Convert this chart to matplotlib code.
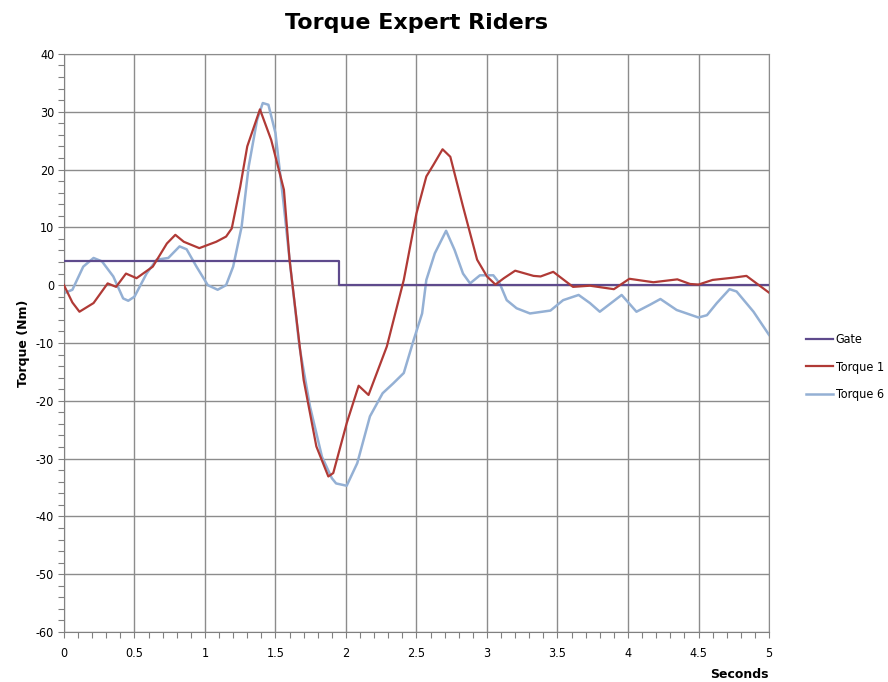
import matplotlib
matplotlib.use("Agg")
import matplotlib.pyplot as plt
from matplotlib.ticker import MultipleLocator

plt.rcParams["axes.unicode_minus"] = False
plt.rcParams["font.family"] = ["DejaVu Sans"]

# Gate signal (step)
gate_t = [0.0, 1.95, 1.95, 5.0]
gate_v = [4.2, 4.2, 0.0, 0.0]

# Torque 1 (red)
t1_t = [0.0, 0.06, 0.11, 0.21, 0.31, 0.37, 0.44, 0.515, 0.63, 0.73, 0.79, 0.85,
        0.96, 1.08, 1.15, 1.19, 1.25, 1.30, 1.39, 1.47, 1.56, 1.60, 1.70, 1.79,
        1.875, 1.91, 2.005, 2.09, 2.16, 2.29, 2.41, 2.50, 2.57, 2.62, 2.685,
        2.74, 2.83, 2.93, 3.00, 3.06, 3.12, 3.20, 3.33, 3.38, 3.47, 3.61, 3.73,
        3.90, 4.01, 4.18, 4.35, 4.44, 4.50, 4.60, 4.75, 4.84, 5.0]
t1_v = [0.0, -3.0, -4.6, -3.1, 0.3, -0.3, 2.0, 1.2, 3.2, 7.2, 8.7, 7.5,
        6.4, 7.5, 8.4, 9.8, 17.0, 24.0, 30.4, 25.1, 16.5, 4.4, -16.4, -27.9,
        -33.1, -32.5, -23.9, -17.4, -19.0, -10.6, 0.9, 12.4, 18.8, 20.8, 23.5,
        22.2, 13.6, 4.4, 1.5, 0.1, 1.2, 2.5, 1.6, 1.5, 2.3, -0.3, -0.1,
        -0.7, 1.1, 0.5, 1.0, 0.2, 0.1, 0.9, 1.3, 1.6, -1.3]

# Torque 6 (blue)
t6_t = [0.0, 0.06, 0.137, 0.21, 0.27, 0.35, 0.42, 0.456, 0.50, 0.586, 0.657,
        0.74, 0.82, 0.87, 0.94, 1.02, 1.09, 1.15, 1.20, 1.26, 1.31, 1.37, 1.41,
        1.45, 1.50, 1.555, 1.60, 1.67, 1.745, 1.83, 1.90, 1.93, 2.005, 2.08,
        2.17, 2.26, 2.335, 2.41, 2.48, 2.54, 2.57, 2.63, 2.71, 2.77, 2.83, 2.88,
        2.95, 3.045, 3.09, 3.14, 3.21, 3.305, 3.45, 3.54, 3.65, 3.73, 3.80,
        3.955, 4.06, 4.155, 4.23, 4.345, 4.50, 4.56, 4.63, 4.72, 4.77, 4.89, 5.0]
t6_v = [-1.4, -0.8, 3.2, 4.7, 4.1, 1.5, -2.3, -2.7, -2.0, 2.0, 4.4,
        4.7, 6.7, 6.2, 3.2, 0.0, -0.8, 0.0, 3.2, 10.1, 20.5, 28.6, 31.5,
        31.2, 26.3, 14.7, 4.4, -10.6, -21.0, -29.7, -33.4, -34.3, -34.7, -30.8,
        -22.7, -18.7, -17.0, -15.2, -9.5, -4.9, 0.9, 5.5, 9.4, 6.1, 2.0, 0.3,
        1.7, 1.7, 0.3, -2.6, -4.0, -4.9, -4.4, -2.6, -1.7, -3.1, -4.6,
        -1.7, -4.6, -3.4, -2.4, -4.3, -5.6, -5.2, -3.1, -0.7, -1.1, -4.6, -8.6]

fig = plt.figure(figsize=(8.88, 6.82), dpi=100)
ax = fig.add_axes([0.072, 0.0733, 0.794, 0.8477])

ax.plot(gate_t, gate_v, color="#5e4a8c", lw=1.6, label="Gate", zorder=3)
ax.plot(t1_t, t1_v, color="#b03a36", lw=1.6, label="Torque 1", zorder=4)
ax.plot(t6_t, t6_v, color="#94b0d4", lw=1.8, label="Torque 6", zorder=2)

ax.set_xlim(0, 5)
ax.set_ylim(-60, 40)
ax.xaxis.set_major_locator(MultipleLocator(0.5))
ax.xaxis.set_minor_locator(MultipleLocator(0.1))
ax.yaxis.set_major_locator(MultipleLocator(10))
ax.yaxis.set_minor_locator(MultipleLocator(2))
ax.xaxis.set_major_formatter(plt.FuncFormatter(lambda v, p: f"{v:g}"))

ax.grid(True, which="major", color="#8c8c8c", lw=1.0)
ax.tick_params(which="both", direction="out", colors="#808080", labelcolor="black",
               labelsize=9, length=4, width=0.8)
ax.tick_params(axis="x", pad=7)
ax.tick_params(axis="y", pad=3)
for lbl in ax.get_xticklabels() + ax.get_yticklabels():
    lbl.set_fontstretch("condensed")
for side in ["top", "right"]:
    ax.spines[side].set_color("#8c8c8c")
for side in ["left", "bottom"]:
    ax.spines[side].set_color("#808080")

ax.set_title("Torque Expert Riders", fontsize=16, fontweight="bold", pad=18)
ax.set_ylabel("Torque (Nm)", fontsize=9, fontweight="bold")
ax.yaxis.set_label_coords(-0.048, 0.5)
fig.text(0.866, 0.002, "Seconds", fontsize=9, fontweight="bold", ha="right", va="bottom")

ax.legend(loc="center left", bbox_to_anchor=(1.045, 0.458), frameon=False,
          prop={"size": 9, "stretch": "condensed"},
          handlelength=2.2, handletextpad=0.2, labelspacing=1.15, borderaxespad=0)

fig.savefig("out.png", dpi=100)
